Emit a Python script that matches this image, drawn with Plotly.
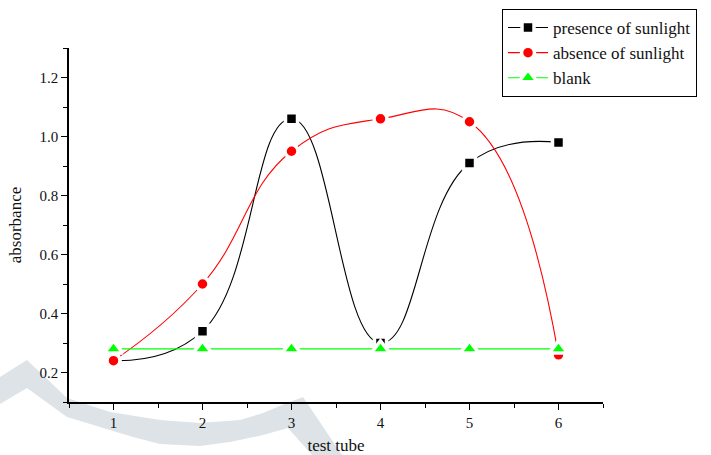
import plotly.graph_objects as go

# Absorbance readings per test tube
test_tube = [1, 2, 3, 4, 5, 6]
presence_of_sunlight = [0.24, 0.34, 1.06, 0.30, 0.91, 0.98]
absence_of_sunlight = [0.24, 0.50, 0.95, 1.06, 1.05, 0.26]
blank = [0.28, 0.28, 0.28, 0.28, 0.28, 0.28]

x_ticks = [1, 2, 3, 4, 5, 6]
y_ticks = [0.2, 0.4, 0.6, 0.8, 1.0, 1.2]

W, H = 711, 455
M_L, M_R, M_T, M_B = 69, 108, 48, 53
PW, PH = W - M_L - M_R, H - M_T - M_B

FONT = "Liberation Serif"
TXT = "#111111"

fig = go.Figure()

series = [
    ("presence of sunlight", presence_of_sunlight, "black", "square", 12),
    ("absence of sunlight", absence_of_sunlight, "#ff0000", "circle", 13),
    ("blank", blank, "#00ff00", "triangle-up", 16),
]
for name, vals, color, symbol, size in series:
    fig.add_trace(go.Scatter(
        x=test_tube, y=vals, name=name,
        mode="lines+markers",
        line=dict(color=color, width=1.1, shape="spline", smoothing=1.3),
        marker=dict(symbol=symbol, size=size, color=color,
                    line=dict(color="white", width=3.5)),
    ))

# faint background watermark band (pixel outline converted to paper space)
band_px = [
    (0, 377), (27, 360), (67, 398), (110, 412), (160, 420), (200, 423),
    (240, 420), (263, 413), (282, 405), (303, 397), (342, 455), (312, 455),
    (288, 428), (263, 435), (230, 442), (200, 446), (160, 444), (133, 437),
    (100, 427), (67, 417), (27, 388), (0, 404),
]

def to_paper(px, py):
    return (px - M_L) / PW, (H - M_B - py) / PH

pts = [to_paper(px, py) for px, py in band_px]
path = "M " + " L ".join(f"{a:.4f},{b:.4f}" for a, b in pts) + " Z"
fig.add_shape(type="path", path=path, xref="paper", yref="paper",
              fillcolor="rgb(221,227,231)", line=dict(width=0), layer="below")

axis_common = dict(
    showline=True, linecolor="black", linewidth=1.6,
    ticks="outside", tickcolor="black", tickwidth=1.3, ticklen=6,
    showgrid=False, zeroline=False, mirror=False, automargin=False,
    tickfont=dict(family=FONT, size=15, color=TXT),
)

fig.update_layout(
    width=W, height=H,
    margin=dict(l=M_L, r=M_R, t=M_T, b=M_B, autoexpand=False),
    paper_bgcolor="white", plot_bgcolor="rgba(0,0,0,0)",
    font=dict(family=FONT, color=TXT),
    xaxis=dict(
        range=[0.5, 6.5], tickvals=x_ticks, ticktext=[str(v) for v in x_ticks],
        minor=dict(dtick=0.5, tick0=0.5, ticks="outside", ticklen=4,
                   tickcolor="black", tickwidth=1.3),
        title=dict(text="test tube", font=dict(family=FONT, size=17, color=TXT),
                   standoff=11),
        **axis_common,
    ),
    yaxis=dict(
        range=[0.1, 1.3], tickvals=y_ticks,
        ticktext=[f"{v:.1f}" for v in y_ticks],
        minor=dict(dtick=0.1, tick0=0.1, ticks="outside", ticklen=4,
                   tickcolor="black", tickwidth=1.3),
        title=dict(text="absorbance", font=dict(family=FONT, size=17, color=TXT),
                   standoff=14),
        **axis_common,
    ),
    legend=dict(
        x=(502 - M_L) / PW, y=(H - M_B - 9) / PH,
        xanchor="left", yanchor="top",
        bgcolor="white", bordercolor="black", borderwidth=1,
        font=dict(family=FONT, size=17, color=TXT),
        itemwidth=40, tracegroupgap=0,
    ),
    showlegend=True,
)

fig.write_html("out.html")
